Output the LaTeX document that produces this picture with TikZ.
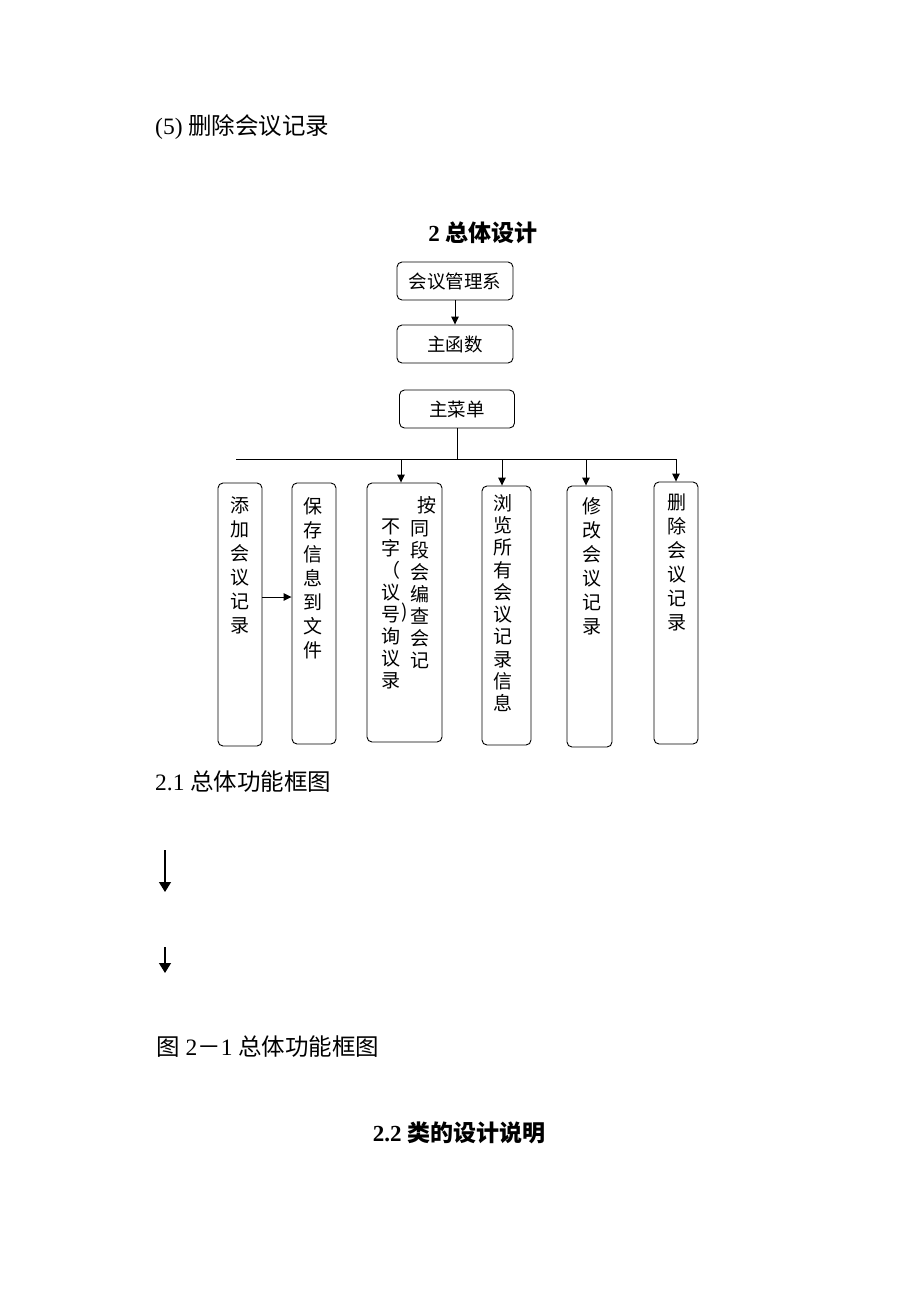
\documentclass[tikz,border=0pt]{standalone}
\usepackage{fontspec}
\setmainfont{Liberation Serif}
\newfontfamily\cjk{Noto Sans CJK SC}
\usetikzlibrary{arrows.meta,positioning,calc}

\tikzset{
  box/.style={draw, rounded corners=5pt, line width=0.9pt, inner sep=0pt},
  hbox/.style={box, minimum width=116pt, minimum height=38pt, font=\cjk\fontsize{18.5}{20}\selectfont},
  vtext/.style={anchor=north, inner sep=0pt, align=center, font=\cjk\fontsize{19}{24}\selectfont},
  onechar/.style={inner sep=0pt, font=\cjk\fontsize{19}{20}\selectfont},
  link/.style={line width=0.9pt},
  arr/.style={line width=0.9pt, -{Triangle[length=8pt,width=7.5pt]}},
  bigarr/.style={line width=1.3pt, -{Triangle[length=10pt,width=12pt]}},
  body/.style={anchor=west, inner sep=0pt, font=\fontsize{23.5}{26}\selectfont},
  head/.style={inner sep=0pt, font=\bfseries\fontsize{23}{26}\selectfont}
}

\begin{document}
\begin{tikzpicture}[x=1pt,y=-1pt]
    \useasboundingbox (0,0) rectangle (920,1302);

    % Text above the chart
    \node[body] (item5) at (155,127) {(5) {\cjk 删除会议记录}};
    \node[head] (title) at (483,233) {2 {\cjk 总体设计}};

    % Top of the chart
    \node[hbox] (sys) at (455,281) {会议管理系};
    \node[hbox] (func) at (455,344) {主函数};
    \node[hbox, minimum width=115pt] (menu) at (457,409) {主菜单};
    \draw[arr] (sys) -- (func);

    % Bus line
    \coordinate (busL) at (236,459);
    \coordinate (busR) at (677,459);
    \draw[link] (menu.south) -- (menu.south |- busL);
    \draw[link] (busL) -- (busR);

    % Function boxes
    \node[box, minimum width=44pt, minimum height=263pt] (add) at (240,614.5) {};
    \node[box, minimum width=44pt, minimum height=261pt] (save) at (314,613.5) {};
    \node[box, minimum width=75pt, minimum height=259pt] (query) at (404.5,612.5) {};
    \node[box, minimum width=49pt, minimum height=259pt] (browse) at (506.5,615.5) {};
    \node[box, minimum width=45pt, minimum height=261pt] (modify) at (589.5,616.5) {};
    \node[box, minimum width=44pt, minimum height=262pt] (delete) at (676,613) {};

    % Box texts
    \node[vtext] (addtext) at (240,497) {添\\加\\会\\议\\记\\录};
    \node[vtext] (savetext) at (313,497) {保\\存\\信\\息\\到\\文\\件};
    \node[onechar] (qtop) at (427,505) {按};
    \node[vtext, font=\cjk\fontsize{19}{22}\selectfont] (qright) at (420,520) {同\\段\\会\\编\\查\\会\\记};
    \node[vtext, font=\cjk\fontsize{19}{22}\selectfont] (qleft) at (391,519) {不\\字\\（\\议\\号\\询\\议\\录};
    \node[onechar] (qparen) at (405,613) {)};
    \node[vtext, font=\cjk\fontsize{19}{22.3}\selectfont] (browsetext) at (503,494) {浏\\览\\所\\有\\会\\议\\记\\录\\信\\息};
    \node[vtext] (modifytext) at (592,497) {修\\改\\会\\议\\记\\录};
    \node[vtext] (deletetext) at (677,494) {删\\除\\会\\议\\记\\录};

    % Arrows
    \foreach \x/\b in {401/query, 502/browse, 586/modify, 676/delete}
        \draw[arr] (\x,459) -- (\b.north -| \x,459);
    \coordinate (addout) at (262,597);
    \draw[arr] (addout -| add.east) -- (addout -| save.west);

    % Text below the chart
    \node[body] (cap1) at (155,782) {2.1 {\cjk 总体功能框图}};
    \coordinate (d1s) at (165,850);
    \coordinate (d1e) at (165,892);
    \coordinate (d2s) at (165,947);
    \coordinate (d2e) at (165,973);
    \draw[bigarr] (d1s) -- (d1e);
    \draw[bigarr] (d2s) -- (d2e);
    \node[body] (cap2) at (156,1047) {{\cjk 图} 2{\cjk －}1 {\cjk 总体功能框图}};
    \node[head] (sub) at (459,1133) {2.2 {\cjk 类的设计说明}};
\end{tikzpicture}
\end{document}
